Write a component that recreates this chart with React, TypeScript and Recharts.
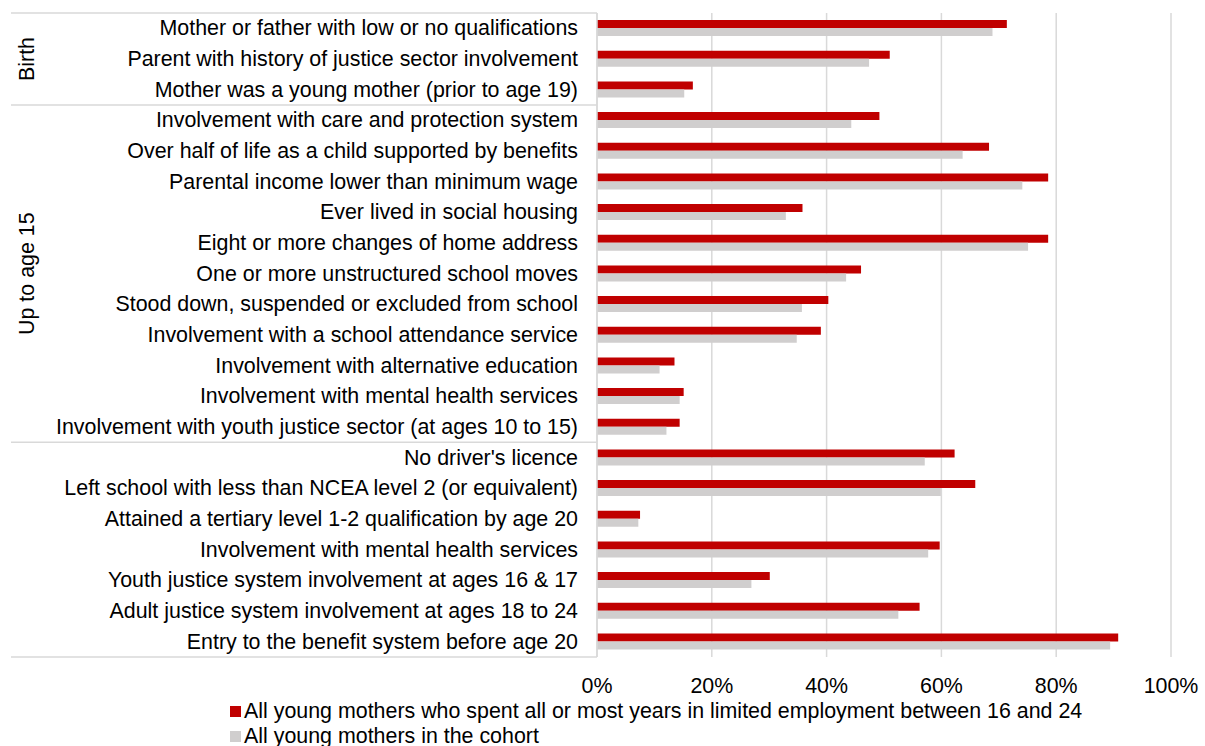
import React from "react";
import { BarChart, Bar, XAxis, YAxis, CartesianGrid, Legend } from "recharts";

const categories = [
  "Mother or father with low or no qualifications",
  "Parent with history of justice sector involvement",
  "Mother was a young mother (prior to age 19)",
  "Involvement with care and protection system",
  "Over half of life as a child supported by benefits",
  "Parental income lower than minimum wage",
  "Ever lived in social housing",
  "Eight or more changes of home address",
  "One or more unstructured school moves",
  "Stood down, suspended or excluded from school",
  "Involvement with a school attendance service",
  "Involvement with alternative education",
  "Involvement with mental health services",
  "Involvement with youth justice sector (at ages 10 to 15)",
  "No driver's licence",
  "Left school with less than NCEA level 2 (or equivalent)",
  "Attained a tertiary level 1-2 qualification by age 20",
  "Involvement with mental health services",
  "Youth justice system involvement at ages 16 & 17",
  "Adult justice system involvement at ages 18 to 24",
  "Entry to the benefit system before age 20",
];

const groupLabels = ["Birth", "Up to age 15", ""];
const groupSizes = [3, 11, 7];

const limitedEmployment = [
  71.4, 51.0, 16.7, 49.2, 68.3, 78.6, 35.8, 78.6, 46.0, 40.3, 39.0, 13.5, 15.1,
  14.4, 62.3, 65.9, 7.5, 59.7, 30.1, 56.2, 90.8,
];
const allCohort = [
  68.9, 47.4, 15.2, 44.3, 63.7, 74.1, 32.9, 75.1, 43.4, 35.7, 34.8, 10.9, 14.4,
  12.1, 57.1, 59.9, 7.2, 57.7, 26.9, 52.5, 89.4,
];

const xTicks = [0, 20, 40, 60, 80, 100];

const seriesNames = [
  "All young mothers who spent all or most years in limited employment between 16 and 24",
  "All young mothers in the cohort",
];

const RED = "#C00000";
const GRAY = "#D0CECE";
const LINE = "#D9D9D9";
const FONT = "'Liberation Sans', Arial, sans-serif";
const FS = 21.4;

const data = categories.map((name, i) => ({
  key: `${i}`,
  name,
  limited: limitedEmployment[i],
  cohort: allCohort[i],
}));

const groupStarts: number[] = [];
{
  let s = 0;
  for (const n of groupSizes) {
    groupStarts.push(s);
    s += n;
  }
}

const TICK_GAP = 19;
const SEP_LEFT = 11;

function CategoryTick(props: any) {
  const { x, y, payload, index } = props;
  const half = payload?.offset ?? 0;
  const band = half * 2;
  const idx = typeof index === "number" ? index : Number(payload.value);
  const label = categories[idx];
  const axisX = x + TICK_GAP;
  const gi = groupStarts.indexOf(idx);
  const els: React.ReactNode[] = [];
  if (gi >= 0) {
    const top = y - half;
    els.push(
      <line key="sep" x1={SEP_LEFT} x2={axisX} y1={top} y2={top} stroke={LINE} strokeWidth={1.5} />
    );
    if (groupLabels[gi]) {
      const cy = top + (groupSizes[gi] * band) / 2;
      els.push(
        <text
          key="g"
          x={27}
          y={cy}
          transform={`rotate(-90, 27, ${cy})`}
          textAnchor="middle"
          dominantBaseline="central"
          fontFamily={FONT}
          fontSize={FS}
          fill="#000"
        >
          {groupLabels[gi]}
        </text>
      );
    }
  }
  if (idx === categories.length - 1) {
    const bottom = y + half;
    els.push(
      <line key="bot" x1={SEP_LEFT} x2={axisX} y1={bottom} y2={bottom} stroke={LINE} strokeWidth={1.5} />
    );
  }
  els.push(
    <text
      key="t"
      x={x}
      y={y}
      textAnchor="end"
      dominantBaseline="central"
      fontFamily={FONT}
      fontSize={FS}
      fill="#000"
    >
      {label}
    </text>
  );
  return <g>{els}</g>;
}

function LegendContent(props: any) {
  const colors = [RED, GRAY];
  return (
    <div style={{ fontFamily: FONT, fontSize: FS, color: "#000" }}>
      {seriesNames.map((n, i) => (
        <div key={i} style={{ display: "flex", alignItems: "center", height: 25, whiteSpace: "nowrap" }}>
          <span
            style={{
              display: "inline-block",
              width: 11,
              height: 11,
              background: colors[i],
              marginRight: 3,
            }}
          />
          <span>{n}</span>
        </div>
      ))}
    </div>
  );
}

export default function App() {
  return (
    <div style={{ position: "absolute", left: 0, top: 0, width: 1205, height: 746, background: "#fff" }}>
      <BarChart
        width={1205}
        height={746}
        data={data}
        layout="vertical"
        margin={{ top: 13, right: 34, left: 0, bottom: 49 }}
        barCategoryGap="23%"
        barGap={0}
      >
        <CartesianGrid horizontal={false} stroke={LINE} strokeWidth={1.5} />
        <XAxis
          type="number"
          domain={[0, 100]}
          ticks={xTicks}
          tickFormatter={(v: number) => `${v}%`}
          axisLine={false}
          tickLine={false}
          height={40}
          tickMargin={15}
          tick={{ fontFamily: FONT, fontSize: FS, fill: "#000" }}
        />
        <YAxis
          type="category"
          dataKey="key"
          width={597}
          axisLine={{ stroke: LINE, strokeWidth: 1.5 }}
          tickLine={false}
          tickMargin={13}
          interval={0}
          tick={<CategoryTick />}
        />
        <Bar dataKey="limited" name={seriesNames[0]} fill={RED} isAnimationActive={false} />
        <Bar dataKey="cohort" name={seriesNames[1]} fill={GRAY} isAnimationActive={false} />
        <Legend
          layout="horizontal"
          verticalAlign="middle"
          align="center"
          content={<LegendContent />}
          wrapperStyle={{ left: 230, top: 699, width: 900, height: 50 }}
        />
      </BarChart>
    </div>
  );
}
